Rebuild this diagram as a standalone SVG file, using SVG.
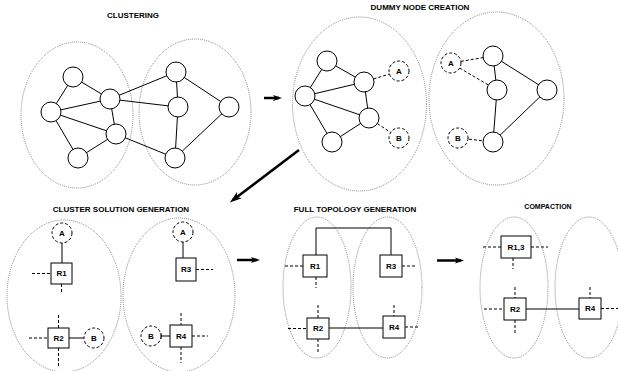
<svg xmlns="http://www.w3.org/2000/svg" width="618" height="371" viewBox="0 0 618 371">
<defs>
<style>
.t{font-family:"Liberation Sans",Arial,sans-serif;font-weight:bold;font-size:8px;text-anchor:middle;fill:#000}
.l{font-family:"Liberation Sans",Arial,sans-serif;font-weight:bold;font-size:8px;text-anchor:middle;dominant-baseline:central;fill:#000}
.cl{fill:none;stroke:#333;stroke-width:0.7;stroke-dasharray:0.8 1.2}
.n{fill:#fff;stroke:#000;stroke-width:1}
.d{fill:#fff;stroke:#000;stroke-width:1;stroke-dasharray:3 2}
.b{fill:#fff;stroke:#000;stroke-width:1}
.e{stroke:#000;stroke-width:1;fill:none}
.de{stroke:#000;stroke-width:1;fill:none;stroke-dasharray:3 2}
.ar{stroke:#000;stroke-width:2.5;fill:none}
</style>
<marker id="ah" markerWidth="9" markerHeight="7" refX="6" refY="3.5" orient="auto" markerUnits="userSpaceOnUse" viewBox="0 0 9 7"><path d="M0,0.5 L9,3.5 L0,6.5 L2,3.5 Z" fill="#000"/></marker>
<marker id="ah2" markerWidth="12" markerHeight="10" refX="8" refY="5" orient="auto" markerUnits="userSpaceOnUse" viewBox="0 0 12 10"><path d="M0,1 L12,5 L0,9 L3,5 Z" fill="#000"/></marker>
</defs>

<!-- titles -->
<text class="t" x="133" y="17.5">CLUSTERING</text>
<text class="t" x="420" y="9.5">DUMMY NODE CREATION</text>
<text class="t" x="121" y="211.5">CLUSTER SOLUTION GENERATION</text>
<text class="t" x="355" y="211.5">FULL TOPOLOGY GENERATION</text>
<text class="t" x="548" y="209" style="font-size:7px">COMPACTION</text>

<!-- cluster ellipses -->
<g id="clusters">
<ellipse class="cl" cx="77" cy="115" rx="56" ry="73"/>
<ellipse class="cl" cx="195" cy="112" rx="56" ry="73"/>
<ellipse class="cl" cx="359.5" cy="104" rx="67" ry="87"/>
<ellipse class="cl" cx="496.5" cy="98.5" rx="67.5" ry="86.5"/>
<ellipse class="cl" cx="64" cy="296" rx="57" ry="76"/>
<ellipse class="cl" cx="179" cy="295" rx="56" ry="77"/>
<ellipse class="cl" cx="317" cy="287.5" rx="34" ry="70.5"/>
<ellipse class="cl" cx="387.5" cy="287.5" rx="34.5" ry="70.5"/>
<ellipse class="cl" cx="514" cy="287.5" rx="34" ry="70.5"/>
<ellipse class="cl" cx="589" cy="287.5" rx="34" ry="70.5"/>
</g>

<!-- connectors -->
<g id="connectors">
<!-- clustering edges -->
<line class="e" x1="73" y1="77" x2="51" y2="112"/>
<line class="e" x1="73" y1="77" x2="110" y2="99"/>
<line class="e" x1="51" y1="112" x2="110" y2="99"/>
<line class="e" x1="51" y1="112" x2="116" y2="134"/>
<line class="e" x1="51" y1="112" x2="78" y2="158"/>
<line class="e" x1="110" y1="99" x2="116" y2="134"/>
<line class="e" x1="116" y1="134" x2="78" y2="158"/>
<line class="e" x1="110" y1="99" x2="176" y2="72"/>
<line class="e" x1="110" y1="99" x2="178" y2="107"/>
<line class="e" x1="116" y1="134" x2="175" y2="158"/>
<line class="e" x1="176" y1="72" x2="178" y2="107"/>
<line class="e" x1="178" y1="107" x2="175" y2="158"/>
<line class="e" x1="176" y1="72" x2="229" y2="107"/>
<line class="e" x1="229" y1="107" x2="175" y2="158"/>
<!-- dummy node creation edges -->
<line class="e" x1="327" y1="61" x2="305" y2="96"/>
<line class="e" x1="327" y1="61" x2="364" y2="82"/>
<line class="e" x1="305" y1="96" x2="364" y2="82"/>
<line class="e" x1="305" y1="96" x2="369" y2="118"/>
<line class="e" x1="305" y1="96" x2="332" y2="142"/>
<line class="e" x1="364" y1="82" x2="369" y2="118"/>
<line class="e" x1="369" y1="118" x2="332" y2="142"/>
<line class="de" x1="364" y1="82" x2="399" y2="71"/>
<line class="de" x1="369" y1="118" x2="399" y2="138"/>
<line class="e" x1="493" y1="56" x2="497" y2="90"/>
<line class="e" x1="497" y1="90" x2="493" y2="142"/>
<line class="e" x1="493" y1="56" x2="547" y2="90"/>
<line class="e" x1="547" y1="90" x2="493" y2="142"/>
<line class="de" x1="451" y1="63" x2="493" y2="56"/>
<line class="de" x1="451" y1="63" x2="497" y2="90"/>
<line class="de" x1="459" y1="138" x2="493" y2="142"/>
<!-- cluster solution generation -->
<line class="e" x1="62" y1="243" x2="62" y2="263"/>
<line class="de" x1="32" y1="273.5" x2="51" y2="273.5"/>
<line class="de" x1="61.5" y1="284" x2="61.5" y2="294"/>
<line class="de" x1="58.5" y1="315" x2="58.5" y2="328"/>
<line class="de" x1="29" y1="338" x2="48" y2="338"/>
<line class="de" x1="58.5" y1="348" x2="58.5" y2="368"/>
<line class="e" x1="69" y1="338" x2="84" y2="338"/>
<line class="e" x1="183" y1="242" x2="183" y2="258"/>
<line class="de" x1="196" y1="269.5" x2="213" y2="269.5"/>
<line class="de" x1="181" y1="313" x2="181" y2="325"/>
<line class="de" x1="192" y1="336" x2="208" y2="336"/>
<line class="de" x1="181" y1="347" x2="181" y2="363"/>
<line class="e" x1="161" y1="336" x2="170" y2="336"/>
<line class="e" x1="161" y1="333" x2="161" y2="339"/>
<!-- full topology generation -->
<polyline class="e" points="316,255 316,228 391,228 391,255"/>
<line class="de" x1="285" y1="266" x2="303" y2="266"/>
<line class="de" x1="316" y1="277" x2="316" y2="288"/>
<line class="de" x1="402" y1="266" x2="417" y2="266"/>
<line class="de" x1="318" y1="305" x2="318" y2="318"/>
<line class="de" x1="288" y1="328.5" x2="307" y2="328.5"/>
<line class="de" x1="318" y1="339" x2="318" y2="353"/>
<line class="de" x1="394" y1="305" x2="394" y2="316"/>
<line class="de" x1="405" y1="327" x2="420" y2="327"/>
<line class="e" x1="329" y1="328" x2="383" y2="328"/>
<!-- compaction -->
<line class="de" x1="483" y1="247" x2="501" y2="247"/>
<line class="de" x1="531" y1="247" x2="548" y2="247"/>
<line class="de" x1="513" y1="258" x2="513" y2="269"/>
<line class="de" x1="515" y1="287" x2="515" y2="298"/>
<line class="de" x1="484" y1="309" x2="504" y2="309"/>
<line class="de" x1="515" y1="320" x2="515" y2="333"/>
<line class="de" x1="590" y1="287" x2="590" y2="298"/>
<line class="de" x1="601" y1="308.5" x2="618" y2="308.5"/>
<line class="e" x1="526" y1="309" x2="579" y2="309"/>
<!-- step arrows -->
<line class="ar" x1="264" y1="98" x2="279" y2="98" marker-end="url(#ah)"/>
<line class="ar" x1="299" y1="150" x2="233" y2="200" marker-end="url(#ah2)"/>
<line class="ar" x1="237" y1="260" x2="257" y2="260" marker-end="url(#ah)"/>
<line class="ar" x1="437" y1="260.5" x2="461" y2="260.5" marker-end="url(#ah)"/>
</g>

<!-- clustering nodes -->
<g id="c1"><circle class="n" cx="73" cy="77" r="10"/></g>
<g id="c2"><circle class="n" cx="51" cy="112" r="10"/></g>
<g id="c3"><circle class="n" cx="110" cy="99" r="10"/></g>
<g id="c4"><circle class="n" cx="116" cy="134" r="10"/></g>
<g id="c5"><circle class="n" cx="78" cy="158" r="10"/></g>
<g id="c6"><circle class="n" cx="176" cy="72" r="10"/></g>
<g id="c7"><circle class="n" cx="178" cy="107" r="10"/></g>
<g id="c8"><circle class="n" cx="229" cy="107" r="10"/></g>
<g id="c9"><circle class="n" cx="175" cy="158" r="10"/></g>

<!-- dummy node creation nodes -->
<g id="d1"><circle class="n" cx="327" cy="61" r="10"/></g>
<g id="d2"><circle class="n" cx="364" cy="82" r="10"/></g>
<g id="d3"><circle class="n" cx="305" cy="96" r="10"/></g>
<g id="d4"><circle class="n" cx="369" cy="118" r="10"/></g>
<g id="d5"><circle class="n" cx="332" cy="142" r="10"/></g>
<g id="dA1"><circle class="d" cx="399" cy="71" r="10"/><text class="l" x="399" y="71">A</text></g>
<g id="dB1"><circle class="d" cx="399" cy="138" r="10"/><text class="l" x="399" y="138">B</text></g>
<g id="d6"><circle class="n" cx="493" cy="56" r="10"/></g>
<g id="d7"><circle class="n" cx="497" cy="90" r="10"/></g>
<g id="d8"><circle class="n" cx="547" cy="90" r="10"/></g>
<g id="d9"><circle class="n" cx="493" cy="142" r="10"/></g>
<g id="dA2"><circle class="d" cx="451" cy="63" r="10"/><text class="l" x="451" y="63">A</text></g>
<g id="dB2"><circle class="d" cx="458" cy="138" r="10"/><text class="l" x="458" y="138">B</text></g>

<!-- cluster solution generation nodes -->
<g id="sA1"><circle class="d" cx="62" cy="233" r="10"/><text class="l" x="62" y="233">A</text></g>
<g id="sR1"><rect class="b" x="51" y="263" width="21" height="21"/><text class="l" x="61.5" y="273.5">R1</text></g>
<g id="sR2"><rect class="b" x="48" y="328" width="21" height="20"/><text class="l" x="58.5" y="338">R2</text></g>
<g id="sB1"><circle class="d" cx="94" cy="338" r="10"/><text class="l" x="94" y="338">B</text></g>
<g id="sA2"><circle class="d" cx="183" cy="232" r="10"/><text class="l" x="183" y="232">A</text></g>
<g id="sR3"><rect class="b" x="176" y="258" width="20" height="23"/><text class="l" x="186" y="269.5">R3</text></g>
<g id="sR4"><rect class="b" x="170" y="325" width="22" height="22"/><text class="l" x="181" y="336">R4</text></g>
<g id="sB2"><circle class="d" cx="151" cy="336" r="10"/><text class="l" x="151" y="336">B</text></g>

<!-- full topology nodes -->
<g id="fR1"><rect class="b" x="303" y="255" width="24" height="22"/><text class="l" x="315" y="266">R1</text></g>
<g id="fR3"><rect class="b" x="380" y="255" width="22" height="22"/><text class="l" x="391" y="266">R3</text></g>
<g id="fR2"><rect class="b" x="307" y="318" width="22" height="21"/><text class="l" x="318" y="328.5">R2</text></g>
<g id="fR4"><rect class="b" x="383" y="316" width="22" height="22"/><text class="l" x="394" y="327">R4</text></g>

<!-- compaction nodes -->
<g id="kR13"><rect class="b" x="501" y="236" width="30" height="22"/><text class="l" x="516" y="247">R1,3</text></g>
<g id="kR2"><rect class="b" x="504" y="298" width="22" height="22"/><text class="l" x="515" y="309">R2</text></g>
<g id="kR4"><rect class="b" x="579" y="298" width="22" height="21"/><text class="l" x="590" y="308.5">R4</text></g>
</svg>
